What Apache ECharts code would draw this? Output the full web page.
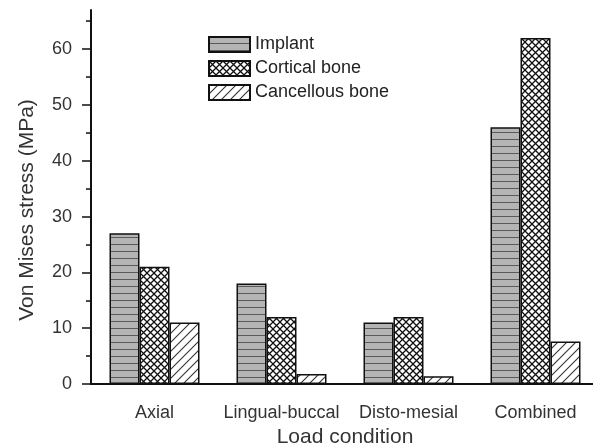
<!DOCTYPE html>
<html><head><meta charset="utf-8">
<script src="https://cdn.jsdelivr.net/npm/echarts@6/dist/echarts.min.js"></script>
<style>html,body{margin:0;padding:0;background:#fff}#c{width:593px;height:445px}</style>
</head><body><div id="c"></div>
<script>
const categories = ['Axial', 'Lingual-buccal', 'Disto-mesial', 'Combined'];
const seriesNames = ['Implant', 'Cortical bone', 'Cancellous bone'];
const implant = [27, 18, 11, 46];
const cortical = [21, 12, 12, 62];
const cancellous = [11, 1.8, 1.4, 7.6];
const yMajorTicks = [0, 10, 20, 30, 40, 50, 60];
const yMinorTicks = [5, 15, 25, 35, 45, 55, 65];

function makePattern(kind) {
  const c = document.createElement('canvas');
  const ctx = c.getContext('2d');
  if (kind === 'h') {
    c.width = 8; c.height = 7;
    ctx.fillStyle = '#b4b4b4'; ctx.fillRect(0, 0, 8, 7);
    ctx.fillStyle = '#5a5a5a'; ctx.fillRect(0, 6, 8, 1.2);
  } else if (kind === 'x') {
    c.width = 7; c.height = 7;
    ctx.fillStyle = '#fff'; ctx.fillRect(0, 0, 7, 7);
    ctx.strokeStyle = '#111'; ctx.lineWidth = 1.3;
    ctx.beginPath();
    ctx.moveTo(0, 0); ctx.lineTo(7, 7);
    ctx.moveTo(7, 0); ctx.lineTo(0, 7);
    ctx.stroke();
  } else {
    c.width = 9; c.height = 9;
    ctx.fillStyle = '#fff'; ctx.fillRect(0, 0, 9, 9);
    ctx.strokeStyle = '#333'; ctx.lineWidth = 1.1;
    ctx.beginPath();
    ctx.moveTo(-1, 10); ctx.lineTo(10, -1);
    ctx.moveTo(-1, 1); ctx.lineTo(1, -1);
    ctx.moveTo(8, 10); ctx.lineTo(10, 8);
    ctx.stroke();
  }
  return { image: c, repeat: 'repeat' };
}

const font = 'Liberation Sans, Arial, sans-serif';
const txt = '#333';
const chart = echarts.init(document.getElementById('c'), null, { renderer: 'canvas' });
const barStyle = (k) => ({ color: makePattern(k), borderColor: '#111', borderWidth: 1.5 });

chart.setOption({
  animation: false,
  backgroundColor: '#fff',
  grid: { left: 91, right: -6, top: 10, bottom: 61, containLabel: false, outerBoundsMode: 'none' },
  legend: {
    orient: 'vertical', left: 203, top: 30,
    itemWidth: 41, itemHeight: 15, itemGap: 5,
    icon: 'rect',
    textStyle: { fontFamily: font, fontSize: 18, lineHeight: 19, color: '#222' },
    data: seriesNames
  },
  graphic: [{
    type: 'text', x: 27, y: 210, rotation: Math.PI / 2,
    style: { text: 'Von Mises stress (MPa)', font: '21px ' + font, fill: txt, align: 'center', verticalAlign: 'middle' }
  }],
  xAxis: [{
    type: 'category', data: categories,
    axisLine: { lineStyle: { color: '#111', width: 2 } },
    axisTick: { alignWithLabel: true, length: 8, lineStyle: { color: '#111', width: 1.5 } },
    axisLabel: { margin: 20, fontFamily: font, fontSize: 18, color: txt, interval: 0 },
    name: 'Load condition', nameLocation: 'middle', nameGap: 43,
    nameTextStyle: { fontFamily: font, fontSize: 21, color: txt }
  }, {
    type: 'category', data: categories, position: 'bottom',
    axisLine: { show: false },
    axisTick: { alignWithLabel: false, length: 4, lineStyle: { color: '#111', width: 1.5 } },
    axisLabel: { show: false }
  }],
  yAxis: [{
    type: 'value', min: 0, max: 67, position: 'left',
    splitLine: { show: false },
    axisLine: { show: true, lineStyle: { color: '#111', width: 2 } },
    axisTick: { show: true, length: 9, customValues: yMajorTicks, lineStyle: { color: '#111', width: 1.5 } },
    axisLabel: { customValues: yMajorTicks, margin: 19, fontFamily: font, fontSize: 18, color: txt }
  }, {
    type: 'value', min: 0, max: 67, position: 'left', offset: 0,
    splitLine: { show: false },
    axisLine: { show: false },
    axisTick: { show: true, length: 5, customValues: yMinorTicks, lineStyle: { color: '#111', width: 1.5 } },
    axisLabel: { show: false }
  }],
  series: [
    { name: seriesNames[0], type: 'bar', data: implant, barWidth: 30, barGap: '0%', itemStyle: barStyle('h') },
    { name: seriesNames[1], type: 'bar', data: cortical, barWidth: 30, barGap: '0%', itemStyle: barStyle('x') },
    { name: seriesNames[2], type: 'bar', data: cancellous, barWidth: 30, barGap: '0%', itemStyle: barStyle('d') }
  ]
});
</script></body></html>
